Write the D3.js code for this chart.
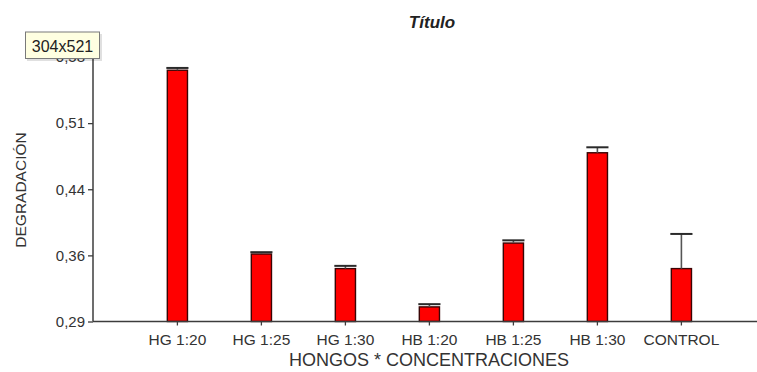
<!DOCTYPE html>
<html>
<head>
<meta charset="utf-8">
<script src="https://cdn.jsdelivr.net/npm/d3@7"></script>
<style>
  html, body { margin: 0; padding: 0; background: #fff; }
  svg { display: block; font-family: "Liberation Sans", Arial, sans-serif; }
</style>
</head>
<body>
<svg id="chart" width="757" height="372"></svg>
<script>
// Degradación media por tratamiento (hongo * concentración) con error estándar
const categories = ["HG 1:20", "HG 1:25", "HG 1:30", "HB 1:20", "HB 1:25", "HB 1:30", "CONTROL"];
const means      = [0.5655, 0.364, 0.348, 0.306, 0.376, 0.475, 0.348];
const errors     = [0.0025, 0.002, 0.003, 0.003, 0.003, 0.006, 0.038];
const yTickValues = [0.29, 0.3625, 0.435, 0.5075, 0.58];
const yTickLabels = ["0,29", "0,36", "0,44", "0,51", "0,58"];

const svg = d3.select("#chart");

const y = d3.scaleLinear().domain([0.29, 0.58]).range([321.5, 57]);
const x = d3.scaleBand()
  .domain(categories)
  .range([135.4, 723.4])
  .paddingInner(0.76)
  .paddingOuter(0.38);

const axisColor = "#3c3c3c";
const textColor = "#333";

// Title
svg.append("text")
  .attr("x", 432).attr("y", 28)
  .attr("text-anchor", "middle")
  .attr("font-size", 17).attr("font-weight", "bold").attr("font-style", "italic")
  .attr("fill", "#222")
  .text("Título");

// Bars
svg.append("g").selectAll("rect")
  .data(categories)
  .join("rect")
  .attr("x", d => x(d))
  .attr("width", x.bandwidth())
  .attr("y", (d, i) => y(means[i]))
  .attr("height", (d, i) => y(0.29) - y(means[i]))
  .attr("fill", "#ff0000")
  .attr("stroke", "#3a0505")
  .attr("stroke-width", 1.4);

// Error bars (upper only)
const eb = svg.append("g");
categories.forEach((c, i) => {
  const cx = x(c) + x.bandwidth() / 2;
  eb.append("line")
    .attr("x1", cx).attr("x2", cx)
    .attr("y1", y(means[i])).attr("y2", y(means[i] + errors[i]))
    .attr("stroke", "#555").attr("stroke-width", 1.6);
  eb.append("line")
    .attr("x1", x(c) - 1).attr("x2", x(c) + x.bandwidth() + 1)
    .attr("y1", y(means[i] + errors[i])).attr("y2", y(means[i] + errors[i]))
    .attr("stroke", "#2a2a2a").attr("stroke-width", 2);
});

// Y axis
const yAxis = svg.append("g")
  .attr("transform", "translate(93,0)")
  .call(d3.axisLeft(y)
    .tickValues(yTickValues)
    .tickFormat((d, i) => yTickLabels[i])
    .tickSize(5)
    .tickPadding(3));
yAxis.select(".domain").attr("stroke", axisColor).attr("stroke-width", 1.5)
  .attr("d", `M0,${y(0.58)}V${y(0.29)}`);
yAxis.selectAll(".tick line").attr("stroke", axisColor).attr("stroke-width", 1.3);
yAxis.selectAll(".tick text")
  .attr("font-size", 15).attr("fill", textColor)
  .attr("font-family", "Liberation Sans, Arial, sans-serif");

// X axis
const xAxis = svg.append("g")
  .attr("transform", `translate(0,${y(0.29)})`)
  .call(d3.axisBottom(x).tickSize(4).tickPadding(8));
xAxis.select(".domain").attr("stroke", axisColor).attr("stroke-width", 1.5)
  .attr("d", "M93,0H757");
xAxis.selectAll(".tick line").attr("stroke", axisColor).attr("stroke-width", 1.3);
xAxis.selectAll(".tick text")
  .attr("font-size", 15.5).attr("fill", textColor)
  .attr("font-family", "Liberation Sans, Arial, sans-serif");

// Axis titles
svg.append("text")
  .attr("x", 429).attr("y", 366)
  .attr("text-anchor", "middle")
  .attr("font-size", 18).attr("fill", textColor)
  .text("HONGOS * CONCENTRACIONES");

svg.append("text")
  .attr("transform", "translate(26,190) rotate(-90)")
  .attr("text-anchor", "middle")
  .attr("font-size", 15.5).attr("fill", textColor)
  .text("DEGRADACIÓN");

// Size tooltip box over the top-left corner
const tip = svg.append("g");
tip.append("rect")
  .attr("x", 27).attr("y", 34).attr("width", 75).attr("height", 27)
  .attr("fill", "#000").attr("opacity", 0.12);
tip.append("rect")
  .attr("x", 25.5).attr("y", 32).attr("width", 74).attr("height", 26.5)
  .attr("fill", "#ffffe1").attr("stroke", "#7a7a7a").attr("stroke-width", 1);
tip.append("text")
  .attr("x", 62.5).attr("y", 51.5)
  .attr("text-anchor", "middle")
  .attr("font-size", 16).attr("fill", "#222")
  .text("304x521");
</script>
</body>
</html>
